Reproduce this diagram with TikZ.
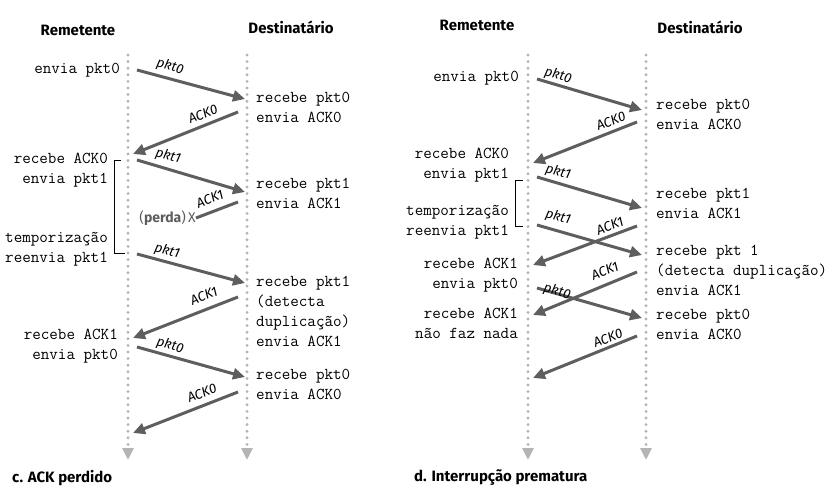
\documentclass[tikz,border=0pt]{standalone}
\usepackage{fontspec}
\setsansfont{Fira Sans}
\usetikzlibrary{arrows.meta}
\definecolor{linegray}{HTML}{B4B4B4}
\definecolor{arrowgray}{HTML}{5E5E5E}
\begin{document}
\begin{tikzpicture}[x=1pt,y=-1pt,
  timeline/.style={draw=linegray,line width=3.2pt,line cap=round,dash pattern=on 0pt off 6.6pt,
    -{Triangle[length=12pt,width=11pt,fill=linegray]}},
  msg/.style={draw=arrowgray,line width=3pt,-{Triangle[length=12pt,width=11pt]}},
  lost/.style={draw=arrowgray,line width=3pt},
  txt/.style={font=\fontsize{16.6}{20}\selectfont\ttfamily,inner sep=0pt},
  snd/.style={txt,anchor=east,align=right},
  rcv/.style={txt,anchor=west,align=left},
  lbl/.style={font=\fontsize{13.5}{13.5}\selectfont\sffamily\itshape,inner sep=0pt},
  head/.style={font=\fontsize{15}{15}\selectfont\sffamily\bfseries,inner sep=0pt},
  brk/.style={draw=black,line width=0.8pt}]
\useasboundingbox (0,0) rectangle (835,486);
\node[head] (cRem) at (78,30) {Remetente};
\node[head] (cDest) at (291,27) {Destinatário};
\coordinate (cS0) at (128,55); \coordinate (cS1) at (128,460);
\coordinate (cR0) at (247,55); \coordinate (cR1) at (247,460);
\draw[timeline] (cS0) -- (cS1);
\draw[timeline] (cR0) -- (cR1);
\node[snd] (cs1) at (120,70) {envia pkt0};
\node[rcv] (cr1) at (256,107) {recebe pkt0\\envia ACK0};
\node[snd] (cs2) at (108,170) {recebe ACK0\\envia pkt1};
\node[rcv] (cr2) at (256,193) {recebe pkt1\\envia ACK1};
\node[snd] (cs3) at (108,249) {temporização\\reenvia pkt1};
\node[rcv] (cr3) at (256,311) {recebe pkt1\\(detecta\\duplicação)\\envia ACK1};
\node[snd] (cs4) at (118,346) {recebe ACK1\\envia pkt0};
\node[rcv] (cr4) at (256,384) {recebe pkt0\\envia ACK0};
\coordinate (cm1a) at (137,70); \coordinate (cm1b) at (245,99);
\coordinate (cm2a) at (238,112); \coordinate (cm2b) at (133,154);
\coordinate (cm3a) at (137,160); \coordinate (cm3b) at (245,192);
\coordinate (cm4a) at (238,202);
\coordinate (cm5a) at (137,254); \coordinate (cm5b) at (245,283);
\coordinate (cm6a) at (238,297); \coordinate (cm6b) at (133,338);
\coordinate (cm7a) at (137,347); \coordinate (cm7b) at (245,377);
\coordinate (cm8a) at (238,392); \coordinate (cm8b) at (133,433);
\node[font=\fontsize{14}{14}\selectfont\sffamily,text=arrowgray,inner sep=0pt,anchor=east] (cLost) at (196,218) {(\textbf{perda})\,X};
\draw[msg] (cm1a) -- (cm1b);
\draw[msg] (cm2a) -- (cm2b);
\draw[msg] (cm3a) -- (cm3b);
\draw[lost] (cm4a) -- (cLost.east);
\draw[msg] (cm5a) -- (cm5b);
\draw[msg] (cm6a) -- (cm6b);
\draw[msg] (cm7a) -- (cm7b);
\draw[msg] (cm8a) -- (cm8b);
\node[lbl,rotate=-15] (cl1) at (170,67) {pkt0};
\node[lbl,rotate=22] (cl2) at (203,114) {ACK0};
\node[lbl,rotate=-15] (cl3) at (168,156) {pkt1};
\node[lbl,rotate=22] (cl4) at (210,199) {ACK1};
\node[lbl,rotate=-15] (cl5) at (167,251) {pkt1};
\node[lbl,rotate=22] (cl6) at (204,296) {ACK1};
\node[lbl,rotate=-15] (cl7) at (170,346) {pkt0};
\node[lbl,rotate=22] (cl8) at (202,393) {ACK0};
\coordinate (cB0) at (121,160); \coordinate (cB1) at (114,253); \coordinate (cB2) at (125,253);
\draw[brk] (cB0) -| (cB1) -- (cB2);
\node[head,anchor=west] (cCap) at (12,478) {c. ACK perdido};
\node[head] (dRem) at (477,25) {Remetente};
\node[head] (dDest) at (700,27) {Destinatário};
\coordinate (dS0) at (528,55); \coordinate (dS1) at (528,460);
\coordinate (dR0) at (646,55); \coordinate (dR1) at (646,460);
\draw[timeline] (dS0) -- (dS1);
\draw[timeline] (dR0) -- (dR1);
\node[snd] (ds1) at (519,78) {envia pkt0};
\node[rcv] (dr1) at (656,114) {recebe pkt0\\envia ACK0};
\node[snd] (ds2) at (509,165) {recebe ACK0\\envia pkt1};
\node[rcv] (dr2) at (656,203) {recebe pkt1\\envia ACK1};
\node[snd] (ds3) at (509,222) {temporização\\reenvia pkt1};
\node[rcv] (dr3) at (656,270) {recebe pkt 1\\(detecta duplicação)\\envia ACK1};
\node[snd] (ds4) at (518,275) {recebe ACK1\\envia pkt0};
\node[snd] (ds5) at (518,323) {recebe ACK1\\não faz nada};
\node[rcv] (dr4) at (656,324) {recebe pkt0\\envia ACK0};
\coordinate (dm1a) at (537,79); \coordinate (dm1b) at (642,110);
\coordinate (dm2a) at (637,122); \coordinate (dm2b) at (533,163);
\coordinate (dm3a) at (537,177); \coordinate (dm3b) at (642,208);
\coordinate (dm4a) at (537,225); \coordinate (dm4b) at (642,255);
\coordinate (dm5a) at (637,226); \coordinate (dm5b) at (533,265);
\coordinate (dm6a) at (637,272); \coordinate (dm6b) at (533,315);
\coordinate (dm7a) at (537,288); \coordinate (dm7b) at (642,318);
\coordinate (dm8a) at (637,336); \coordinate (dm8b) at (533,378);
\draw[msg] (dm1a) -- (dm1b);
\draw[msg] (dm2a) -- (dm2b);
\draw[msg] (dm3a) -- (dm3b);
\draw[msg] (dm4a) -- (dm4b);
\draw[msg] (dm5a) -- (dm5b);
\draw[msg] (dm6a) -- (dm6b);
\draw[msg] (dm7a) -- (dm7b);
\draw[msg] (dm8a) -- (dm8b);
\node[lbl,rotate=-15] (dl1) at (558,76) {pkt0};
\node[lbl,rotate=22] (dl2) at (611,121) {ACK0};
\node[lbl,rotate=-15] (dl3) at (558,172) {pkt1};
\node[lbl,rotate=-15] (dl4) at (558,217) {pkt1};
\node[lbl,rotate=22] (dl5) at (610,226) {ACK1};
\node[lbl,rotate=22] (dl6) at (605,271) {ACK1};
\node[lbl,rotate=-15] (dl7) at (557,292) {pkt0};
\node[lbl,rotate=22] (dl8) at (608,338) {ACK0};
\coordinate (dB0) at (523,180); \coordinate (dB1) at (515,226); \coordinate (dB2) at (523,226);
\draw[brk] (dB0) -| (dB1) -- (dB2);
\node[head,anchor=west] (dCap) at (414,478) {d. Interrupção prematura};
\end{tikzpicture}
\end{document}
